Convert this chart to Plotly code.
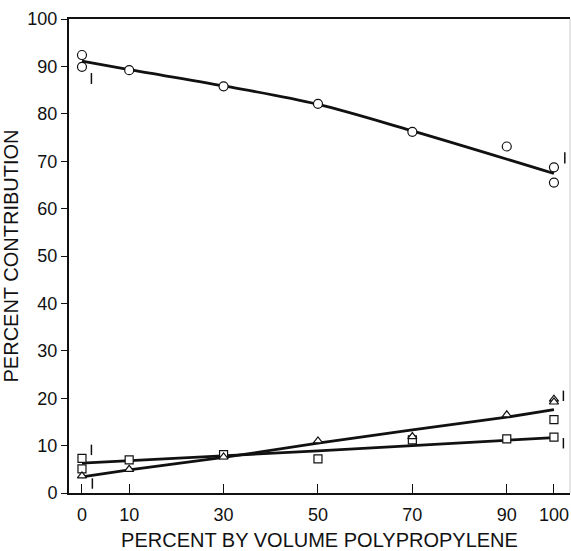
import plotly.graph_objects as go

# ---- data ----
x_ticks = [0, 10, 30, 50, 70, 90, 100]
y_ticks = [0, 10, 20, 30, 40, 50, 60, 70, 80, 90, 100]

circ_x = [0, 0, 10, 30, 50, 70, 90, 100, 100]
circ_y = [92.4, 89.9, 89.2, 85.8, 82.1, 76.2, 73.1, 68.7, 65.5]
circ_fit_x = [0, 10, 30, 50, 70, 100]
circ_fit_y = [91.1, 89.3, 85.9, 82.0, 76.4, 67.4]

sq_x = [0, 0, 10, 30, 50, 70, 90, 100, 100]
sq_y = [7.3, 5.1, 7.0, 8.1, 7.2, 11.2, 11.4, 15.5, 11.8]
sq_fit_x = [0, 10, 30, 50, 70, 90, 100]
sq_fit_y = [6.3, 6.8, 7.8, 8.9, 10.0, 11.1, 11.7]

tri_x = [0, 10, 30, 50, 70, 90, 100, 100]
tri_y = [3.6, 5.0, 7.6, 11.0, 11.9, 16.5, 19.8, 19.2]
tri_fit_x = [0, 10, 30, 50, 70, 90, 100]
tri_fit_y = [3.4, 4.9, 7.5, 10.5, 13.3, 16.0, 17.6]

# small range marks ("I") near line ends
rng_x = [2.0, 102.3, 2.0, 2.2, 102.0, 102.0]
rng_lo = [86.3, 69.5, 8.0, 0.9, 19.4, 9.4]
rng_hi = [88.6, 71.9, 10.2, 3.1, 21.6, 11.6]

BLACK = "#111111"
fig = go.Figure()

for fx, fy, shape in [(circ_fit_x, circ_fit_y, "spline"),
                      (sq_fit_x, sq_fit_y, "linear"),
                      (tri_fit_x, tri_fit_y, "linear")]:
    fig.add_trace(go.Scatter(x=fx, y=fy, mode="lines",
                             line=dict(color=BLACK, width=2.8, shape=shape),
                             hoverinfo="skip", showlegend=False))

# range marks
mx, my = [], []
for xv, lo, hi in zip(rng_x, rng_lo, rng_hi):
    mx += [xv, xv, None]
    my += [lo, hi, None]
fig.add_trace(go.Scatter(x=mx, y=my, mode="lines",
                         line=dict(color=BLACK, width=1.5),
                         hoverinfo="skip", showlegend=False))

for px, py, sym, sz in [(circ_x, circ_y, "circle", 9),
                        (sq_x, sq_y, "square", 8),
                        (tri_x, tri_y, "triangle-up", 8)]:
    fig.add_trace(go.Scatter(x=px, y=py, mode="markers",
                             marker=dict(symbol=sym, size=sz, color="white",
                                         line=dict(color=BLACK, width=1.2)),
                             showlegend=False))

font = dict(family="Liberation Sans, Arial, sans-serif", size=18, color=BLACK)

fig.update_layout(
    width=571, height=551,
    margin=dict(l=69, r=1, t=19, b=58),
    paper_bgcolor="white", plot_bgcolor="white",
    font=font,
    xaxis=dict(range=[-2.75, 103.4], tickmode="array", tickvals=x_ticks,
               ticktext=[str(v) for v in x_ticks],
               ticks="inside", ticklen=9, tickwidth=1.2, tickcolor=BLACK,
               showline=True, linecolor=BLACK, linewidth=2, mirror=True,
               showgrid=False, zeroline=False, automargin=False,
               title=dict(text="PERCENT BY VOLUME POLYPROPYLENE",
                          font=dict(size=20), standoff=14),
               ticklabelstandoff=4),
    yaxis=dict(range=[0, 100], tickmode="array", tickvals=y_ticks,
               ticks="outside", ticklen=6, tickwidth=1.2, tickcolor=BLACK,
               showline=True, linecolor=BLACK, linewidth=2,
               showgrid=False, zeroline=False, automargin=False,
               title=dict(text="PERCENT CONTRIBUTION",
                          font=dict(size=20), standoff=4)),
    shapes=[dict(type="line", xref="paper", yref="paper", x0=1, x1=1, y0=0, y1=1,
                 line=dict(color="#cccccc", width=1))],
)

fig.write_html("out.html")
